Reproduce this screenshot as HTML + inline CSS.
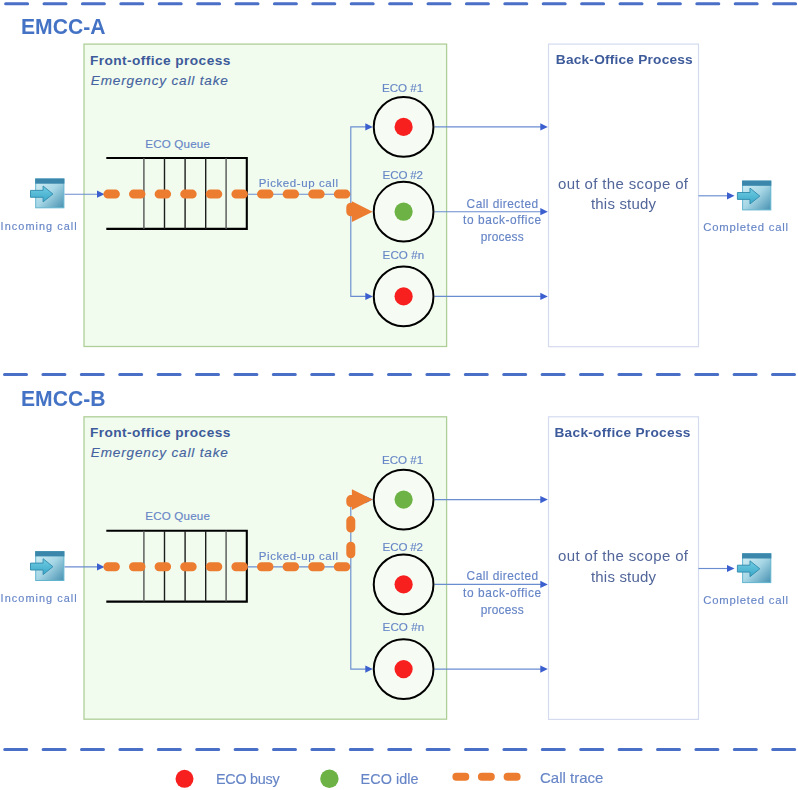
<!DOCTYPE html>
<html><head><meta charset="utf-8">
<style>
html,body{margin:0;padding:0;background:#fff;}
body{width:798px;height:790px;overflow:hidden;}
svg{display:block;filter:blur(0.3px);}
text{font-family:"Liberation Sans",sans-serif;}
</style></head>
<body>
<svg width="798" height="790" viewBox="0 0 798 790">
<defs>
  <linearGradient id="icBody" x1="0" y1="0" x2="1" y2="1">
    <stop offset="0" stop-color="#d6f1f7"/>
    <stop offset="0.5" stop-color="#a6d6e5"/>
    <stop offset="1" stop-color="#4791b1"/>
  </linearGradient>
  <linearGradient id="icArrow" x1="0" y1="0" x2="0" y2="1">
    <stop offset="0" stop-color="#72cde3"/>
    <stop offset="1" stop-color="#39a7c8"/>
  </linearGradient>
  <g id="icon">
    <rect x="0.5" y="0.5" width="28.2" height="28.8" fill="url(#icBody)" stroke="#62b4cf" stroke-width="1"/>
    <rect x="0" y="0" width="29.2" height="5.2" fill="#3a87ab"/>
    <path d="M-4.7,11.9 H7.9 V7.5 L17.7,15.5 L7.9,23.4 V18.8 H-4.7 Z" fill="url(#icArrow)" stroke="#2f8aac" stroke-width="0.9"/>
  </g>
  <path id="blueArrowR" d="M0,0 L-7.5,-3.6 L-7.5,3.6 Z" fill="#3b5fcf"/>

  <g id="common">
    <rect x="84" y="44.1" width="362.6" height="302.4" fill="#f1fcee" stroke="#afcf98" stroke-width="1.3"/>
    <rect x="548.5" y="44.1" width="150" height="302.6" fill="#ffffff" stroke="#d4dbef" stroke-width="1.2"/>
    <text x="90.0" y="64.5" font-size="13.7" font-weight="bold" fill="#3d5a9a" textLength="140.34" lengthAdjust="spacing">Front-office process</text>
    <text x="90.8" y="84.6" font-size="13.6" font-style="italic" stroke="#4563a0" stroke-width="0.15" fill="#4563a0" textLength="137.01" lengthAdjust="spacing">Emergency call take</text>
    <text x="145.2" y="147.5" font-size="11.6" stroke="#6685c6" stroke-width="0.15" fill="#6685c6" textLength="64.76" lengthAdjust="spacing">ECO Queue</text>
    <g fill="none">
      <path d="M106.3,158 H246.8 V228.9 H106.3" stroke="#000" stroke-width="2.1"/>
      <path d="M164.5,158 V228.9 M185.1,158 V228.9 M205.7,158 V228.9" stroke-width="1.4" stroke="#1e1e1e"/>
      <path d="M143.9,158 V228.9 M226.1,158 V228.9" stroke-width="1.4" stroke="#555"/>
    </g>
    <use href="#icon" x="35.2" y="178.5"/>
    <line x1="64.5" y1="194.2" x2="100" y2="194.2" stroke="#6a8dd0" stroke-width="1.15"/>
    <use href="#blueArrowR" x="104.5" y="194.2"/>
    <text x="0.6" y="229.5" font-size="10.9" stroke="#6685c6" stroke-width="0.15" fill="#6685c6" textLength="76.16" lengthAdjust="spacing">Incoming call</text>
    <g stroke="#6a8dd0" stroke-width="1.15" fill="none">
      <line x1="246.8" y1="194.2" x2="350.8" y2="194.2"/>
      <path d="M366,126.9 H350.8 V296.4 H366"/>
      <line x1="434.5" y1="126.9" x2="541" y2="126.9"/>
      <line x1="434.5" y1="211.7" x2="541" y2="211.7"/>
      <line x1="434.5" y1="296.4" x2="541" y2="296.4"/>
      <line x1="698.5" y1="195.8" x2="728" y2="195.8"/>
    </g>
    <use href="#blueArrowR" x="372.8" y="126.9"/>
    <use href="#blueArrowR" x="372.8" y="296.4"/>
    <use href="#blueArrowR" x="547.8" y="126.9"/>
    <use href="#blueArrowR" x="547.8" y="211.7"/>
    <use href="#blueArrowR" x="547.8" y="296.4"/>
    <use href="#blueArrowR" x="734.5" y="195.8"/>
    <g fill="#f6fcf3" stroke="#000" stroke-width="2.0">
      <circle cx="403.6" cy="126.9" r="29.85"/>
      <circle cx="403.6" cy="211.7" r="29.85"/>
      <circle cx="403.6" cy="296.4" r="29.85"/>
    </g>
    <text x="382.0" y="91.5" font-size="11.6" stroke="#6685c6" stroke-width="0.15" fill="#6685c6" textLength="41.25" lengthAdjust="spacing">ECO #1</text>
    <text x="382.6" y="178.8" font-size="11.6" stroke="#6685c6" stroke-width="0.15" fill="#6685c6" textLength="40.45" lengthAdjust="spacing">ECO #2</text>
    <text x="382.6" y="258.8" font-size="11.6" stroke="#6685c6" stroke-width="0.15" fill="#6685c6" textLength="41.55" lengthAdjust="spacing">ECO #n</text>
    <text x="258.8" y="187.2" font-size="11.5" stroke="#6685c6" stroke-width="0.15" fill="#6685c6" textLength="79.19" lengthAdjust="spacing">Picked-up call</text>
    <text x="466.6" y="207.5" font-size="11.9" stroke="#6685c6" stroke-width="0.15" fill="#6685c6" textLength="71.59" lengthAdjust="spacing">Call directed</text>
    <text x="463.0" y="224.1" font-size="11.9" stroke="#6685c6" stroke-width="0.15" fill="#6685c6" textLength="78.22" lengthAdjust="spacing">to back-office</text>
    <text x="480.8" y="241.4" font-size="11.9" stroke="#6685c6" stroke-width="0.15" fill="#6685c6" textLength="42.84" lengthAdjust="spacing">process</text>
    <text x="558.0" y="188.5" font-size="15" fill="#52669a" textLength="130.02" lengthAdjust="spacing">out of the scope of</text>
    <text x="591.0" y="209.2" font-size="15" fill="#52669a" textLength="64.98" lengthAdjust="spacing">this study</text>
    <use href="#icon" x="742.1" y="180.6"/>
    <text x="703.2" y="231.3" font-size="11.3" stroke="#6685c6" stroke-width="0.15" fill="#6685c6" textLength="84.93" lengthAdjust="spacing">Completed call</text>
  </g>
</defs>
<g stroke="#4a6fc6" stroke-width="3" stroke-linecap="round" stroke-dasharray="22 16.4" fill="none">
  <line x1="5.6" y1="3.85" x2="798" y2="3.85"/>
  <line x1="4.5" y1="374.6" x2="798" y2="374.6"/>
  <line x1="4.7" y1="749.5" x2="798" y2="749.5"/>
</g>
<use href="#common"/>
<text x="21.0" y="33.8" font-size="22.8" font-weight="bold" fill="#4472c4" textLength="84.49" lengthAdjust="spacingAndGlyphs">EMCC-A</text>
<text x="555.8" y="64.4" font-size="13.7" font-weight="bold" fill="#3d5a9a" textLength="136.94" lengthAdjust="spacing">Back-Office Process</text>
<circle cx="403.6" cy="126.9" r="9.1" fill="#f81f1f"/>
<circle cx="403.6" cy="211.7" r="9.1" fill="#6db245"/>
<circle cx="403.6" cy="296.4" r="9.1" fill="#f81f1f"/>
<path d="M107.9,194.1 H350.8 V211.7 H356" stroke="#ec7c30" stroke-width="9" stroke-linecap="round" stroke-linejoin="round" fill="none" stroke-dasharray="7.5 18.1"/>
<path d="M351.9,201.35 L372.6,211.7 L351.9,222.04999999999998 Z" fill="#ec7c30"/>
<g transform="translate(0,372.7)">
<use href="#common"/>
<text x="21.0" y="33.8" font-size="22.8" font-weight="bold" fill="#4472c4" textLength="84.49" lengthAdjust="spacingAndGlyphs">EMCC-B</text>
<text x="554.4" y="64.6" font-size="13.7" font-weight="bold" fill="#3d5a9a" textLength="136.06" lengthAdjust="spacing">Back-office Process</text>
<circle cx="403.6" cy="126.9" r="9.1" fill="#6db245"/>
<circle cx="403.6" cy="211.7" r="9.1" fill="#f81f1f"/>
<circle cx="403.6" cy="296.4" r="9.1" fill="#f81f1f"/>
<path d="M107.9,194.1 H350.8 V126.9 H356" stroke="#ec7c30" stroke-width="9" stroke-linecap="round" stroke-linejoin="round" fill="none" stroke-dasharray="7.5 18.1"/>
<path d="M351.9,116.55000000000001 L372.6,126.9 L351.9,137.25 Z" fill="#ec7c30"/>
</g>
<circle cx="184.5" cy="778.8" r="9" fill="#f81f1f"/>
<circle cx="329.4" cy="778.8" r="9.2" fill="#6db245"/>
<g stroke="#ec7c30" stroke-width="8" stroke-linecap="round">
  <line x1="456.4" y1="776.8" x2="465.3" y2="776.8"/>
  <line x1="481.9" y1="776.8" x2="490.8" y2="776.8"/>
  <line x1="507.6" y1="776.8" x2="516.6" y2="776.8"/>
</g>
<text x="216.0" y="783.9" font-size="14.4" stroke="#6685c6" stroke-width="0.15" fill="#6685c6" textLength="63.69" lengthAdjust="spacing">ECO busy</text>
<text x="360.6" y="783.9" font-size="14.4" stroke="#6685c6" stroke-width="0.15" fill="#6685c6" textLength="57.89" lengthAdjust="spacing">ECO idle</text>
<text x="540.0" y="782.9" font-size="15" stroke="#6685c6" stroke-width="0.15" fill="#6685c6" textLength="63.36" lengthAdjust="spacing">Call trace</text>
</svg>
</body></html>
